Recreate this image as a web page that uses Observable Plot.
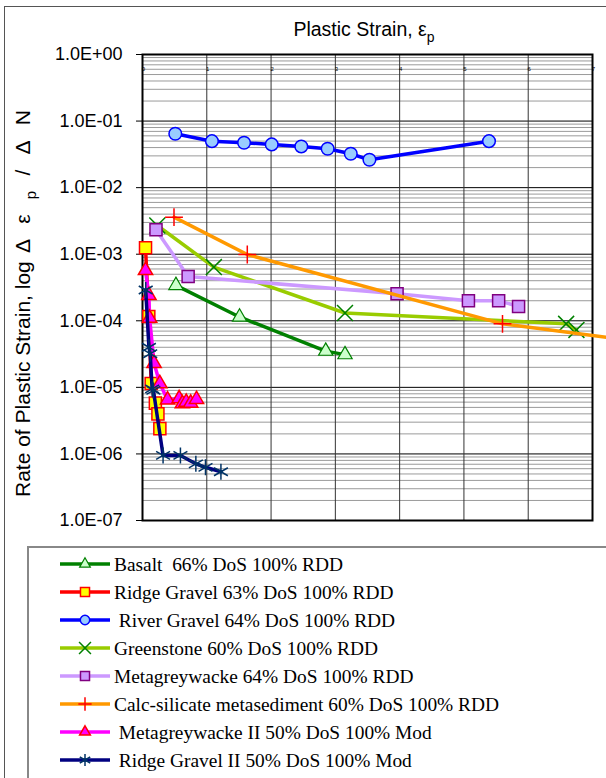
<!DOCTYPE html>
<html><head><meta charset="utf-8">
<script src="https://cdn.jsdelivr.net/npm/d3@7"></script>
<script src="https://cdn.jsdelivr.net/npm/@observablehq/plot@0.6"></script>
<style>
body{margin:0;background:#fff;}
#wrap{position:relative;width:606px;height:778px;overflow:hidden;background:#fff;}
#chart{position:absolute;left:0;top:0;}
#frame{position:absolute;left:4px;top:6px;width:700px;height:800px;border-left:1.5px solid #555;border-top:1.5px solid #555;pointer-events:none;}
#legend{position:absolute;left:27px;top:546px;width:700px;height:300px;border-left:2px solid #888;border-top:2px solid #888;background:#fff;}
</style></head><body>
<div id="wrap"><div id="chart"></div><div id="legend"></div><div id="frame"></div></div>
<script>
// ---- data (x = plastic strain, y = rate of plastic strain) ----
const xTicks = [0, 1, 2, 3, 4, 5, 6, 7];
const yTicks = [1, 1e-1, 1e-2, 1e-3, 1e-4, 1e-5, 1e-6, 1e-7];

const basaltX = [0.52, 1.51, 2.85, 3.15];
const basaltY = [3.4e-4, 1.14e-4, 3.5e-5, 3.1e-5];

const ridgeX = [0.047, 0.098, 0.135, 0.20, 0.24, 0.27];
const ridgeY = [1.25e-3, 1.16e-4, 1.14e-5, 5.8e-6, 4.0e-6, 2.4e-6];

const riverX = [0.51, 1.08, 1.58, 2.01, 2.47, 2.88, 3.24, 3.53, 5.39];
const riverY = [0.0644, 0.0499, 0.0472, 0.0446, 0.0416, 0.0384, 0.0323, 0.0262, 0.0499];

const greenX = [0.23, 1.11, 3.15, 6.59, 6.75];
const greenY = [2.7e-3, 6.4e-4, 1.31e-4, 9.0e-5, 7.3e-5];

const metaX = [0.21, 0.71, 3.96, 5.07, 5.54, 5.85];
const metaY = [2.33e-3, 4.64e-4, 2.55e-4, 2.0e-4, 2.0e-4, 1.64e-4];

const calcX = [0.49, 1.63, 5.60, 7.5];
const calcY = [3.6e-3, 9.9e-4, 9.0e-5, 5.2e-5];

const meta2X = [0.047, 0.10, 0.11, 0.18, 0.27, 0.39, 0.57, 0.62, 0.68, 0.75, 0.84];
const meta2Y = [5.7e-4, 2.4e-4, 1.1e-4, 2.3e-5, 1.14e-5, 6.5e-6, 6.8e-6, 5.7e-6, 6.0e-6, 5.8e-6, 6.6e-6];

const ridge2X = [0.05, 0.10, 0.12, 0.15, 0.17, 0.32, 0.59, 0.83, 0.98, 1.22];
const ridge2Y = [2.9e-4, 4.0e-5, 3.2e-5, 9.5e-6, 9.0e-6, 9.5e-7, 9.5e-7, 7.1e-7, 6.3e-7, 5.4e-7];

const seriesNames = [
  "Basalt  66% DoS 100% RDD",
  "Ridge Gravel 63% DoS 100% RDD",
  " River Gravel 64% DoS 100% RDD",
  "Greenstone 60% DoS 100% RDD",
  "Metagreywacke 64% DoS 100% RDD",
  "Calc-silicate metasediment 60% DoS 100% RDD",
  " Metagreywacke II 50% DoS 100% Mod",
  " Ridge Gravel II 50% DoS 100% Mod"
];

// ---- styles ----
const styles = [
  {xs: basaltX, ys: basaltY, line: "#008000", symbol: "triangle", fill: "#ccffcc", stroke: "#008000", r: 5.3, sw: 1.2},
  {xs: ridgeX, ys: ridgeY, line: "#ff0000", symbol: "square", fill: "#ffff00", stroke: "#ff0000", r: 6.8, sw: 1.5},
  {xs: riverX, ys: riverY, line: "#0000ff", symbol: "circle", fill: "#99ccff", stroke: "#0000ff", r: 6.3, sw: 1.5},
  {xs: greenX, ys: greenY, line: "#99cc00", symbol: "times", fill: "none", stroke: "#008000", r: 7.3, sw: 1.5},
  {xs: metaX, ys: metaY, line: "#cc99ff", symbol: "square", fill: "#cc99ff", stroke: "#800080", r: 6.8, sw: 1.5},
  {xs: calcX, ys: calcY, line: "#ff9900", symbol: "plus", fill: "none", stroke: "#ff0000", r: 5.8, sw: 1.5},
  {xs: meta2X, ys: meta2Y, line: "#ff00ff", symbol: "triangle", fill: "#ff00ff", stroke: "#ff0000", r: 5.3, sw: 1.5},
  {xs: ridge2X, ys: ridge2Y, line: "#000080", symbol: "asterisk", fill: "none", stroke: "#003366", r: 7.6, sw: 1.5}
];

const minorTicks = [];
for (let e = -7; e < 0; e++) for (let m = 2; m <= 9; m++) minorTicks.push(m * Math.pow(10, e));

const fmt = d => {
  const e = Math.round(Math.log10(d));
  return "1.0E" + (e >= 0 ? "+" : "-") + String(Math.abs(e)).padStart(2, "0");
};

const marks = [
  Plot.ruleY(minorTicks, {stroke: "#9a9a9a", strokeWidth: 1}),
  Plot.ruleY(yTicks, {stroke: "#000", strokeWidth: 1}),
  Plot.ruleX(xTicks, {stroke: "#333", strokeWidth: 1}),
  Plot.frame({stroke: "#000", strokeWidth: 2}),
  Plot.axisY({ticks: yTicks, tickFormat: fmt, tickSize: 6, tickPadding: 14, fontSize: 18, fontFamily: "Liberation Sans, Arial, sans-serif", label: null, fill: "#000"}),
  Plot.text(xTicks, {x: d => d, frameAnchor: "top", dy: 12, dx: 1, text: d => String(d), fontSize: 6, fill: "#000"})
];
styles.forEach(s => {
  const rows = s.xs.map((x, i) => ({x, y: s.ys[i]}));
  marks.push(Plot.line(rows, {x: "x", y: "y", stroke: s.line, strokeWidth: 3.5, curve: "linear"}));
  marks.push(Plot.dot(rows, {x: "x", y: "y", symbol: s.symbol, r: s.r, fill: s.fill, stroke: s.stroke, strokeWidth: s.sw}));
});

const plot = Plot.plot({
  width: 606,
  height: 540,
  marginLeft: 142,
  marginRight: 14,
  marginTop: 54,
  marginBottom: 20,
  style: {background: "transparent", fontFamily: "Liberation Sans, Arial, sans-serif"},
  x: {domain: [0, 7], axis: null},
  y: {type: "log", domain: [1e-7, 1], axis: null},
  marks
});
document.getElementById("chart").appendChild(plot);

// axis titles with subscripts
const svg = d3.select(plot);
const t = svg.append("text").attr("x", 364).attr("y", 36).attr("text-anchor", "middle")
  .attr("font-family", "Liberation Sans, Arial, sans-serif").attr("font-size", 19.5).attr("fill", "#000");
t.append("tspan").text("Plastic Strain, ε");
t.append("tspan").attr("font-size", 14).attr("dy", 6).text("p");

const yg = svg.append("g").attr("transform", "translate(30,497) rotate(-90)").attr("text-anchor", "start")
  .attr("font-family", "Liberation Sans, Arial, sans-serif").attr("fill", "#000");
yg.append("text").attr("x", 0).attr("y", 0).attr("text-anchor", "start").attr("font-size", 21).text("Rate of Plastic Strain, log");
const yt2 = yg.append("text").attr("x", 244).attr("y", 0).attr("text-anchor", "start").attr("font-size", 21)
  .attr("textLength", 143).attr("lengthAdjust", "spacing");
yt2.append("tspan").text("Δε");
yt2.append("tspan").attr("font-size", 15).attr("dy", 6).text("p");
yt2.append("tspan").attr("dy", -6).text("/ΔN");

// legend
const lg = d3.select("#legend").append("svg").attr("width", 600).attr("height", 240);
styles.forEach((s, i) => {
  const y = 16 + i * 28;
  const g = lg.append("g").attr("transform", `translate(0,${y})`);
  g.append("line").attr("x1", 31).attr("x2", 81).attr("y1", 0).attr("y2", 0).attr("stroke", s.line).attr("stroke-width", 3.5);
  const sym = {triangle: d3.symbolTriangle, square: d3.symbolSquare, circle: d3.symbolCircle, times: d3.symbolTimes, plus: d3.symbolPlus, asterisk: d3.symbolAsterisk}[s.symbol];
  const k = 0.75;
  g.append("path").attr("transform", "translate(56,0)").attr("d", d3.symbol(sym, Math.PI * s.r * s.r * k * k)())
    .attr("fill", s.fill).attr("stroke", s.stroke).attr("stroke-width", s.sw);
  g.append("text").attr("x", 85).attr("y", 0).attr("dy", "0.35em").attr("font-family", "Liberation Serif, Times New Roman, serif")
    .attr("font-size", 19.4).attr("fill", "#000").attr("xml:space", "preserve").style("white-space", "pre").text(seriesNames[i]);
});
</script>
</body></html>
